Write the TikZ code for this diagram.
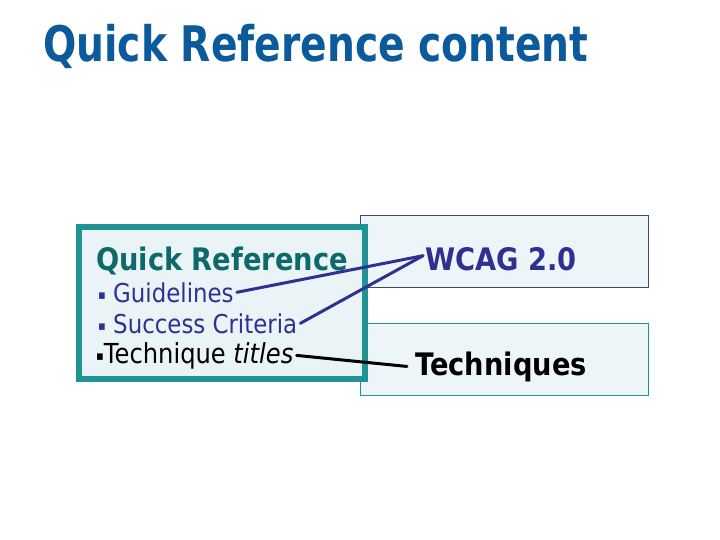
\documentclass[tikz,border=0pt]{standalone}
\usepackage{fontspec}
\setmainfont{DejaVu Sans}
\newfontfamily\slidefont[FakeStretch=0.88]{DejaVu Sans}
\newfontfamily\headfont[FakeStretch=0.8]{DejaVu Sans}
\usetikzlibrary{positioning}

\definecolor{headblue}{HTML}{0B5A9C}
\definecolor{qrteal}{HTML}{1E9494}
\definecolor{qrdark}{HTML}{0E6A6A}
\definecolor{qrfill}{HTML}{EAF3F6}
\definecolor{wcagink}{HTML}{2E3192}
\definecolor{wcagline}{HTML}{3B4868}
\definecolor{panelfill}{HTML}{EEF5F8}

\newcommand{\sqbullet}{\raisebox{3pt}{\fontsize{13}{13}\selectfont▪}}

\tikzset{
  txt/.style={anchor=base west, inner sep=0pt, font=\slidefont\fontsize{#1}{#1}\selectfont},
  boldtxt/.style={anchor=base west, inner sep=0pt, font=\slidefont\bfseries\fontsize{#1}{#1}\selectfont},
  panel/.style={draw=#1, fill=panelfill, line width=0.8pt, minimum width=288pt, minimum height=72pt},
  link/.style={draw=#1, line width=3pt, line cap=round},
}

\begin{document}
\begin{tikzpicture}[x=1pt,y=-1pt]
  \useasboundingbox[fill=white] (0,0) rectangle (720,540);
  % slide title
  \node[anchor=base west, inner sep=0pt, text=headblue,
        font=\headfont\bfseries\fontsize{49}{49}\selectfont] (head) at (43,62) {Quick Reference content};
  % target boxes
  \node[panel=wcagline] (wcagbox) at (504,251) {};
  \node[panel=qrteal] (techbox) at (504,359) {};
  % quick reference box
  \node[draw=qrteal, fill=qrfill, line width=6pt, minimum width=286pt, minimum height=152pt] (qrbox) at (222,303) {};
  \node[boldtxt=31, text=qrdark] (qr) at (96,270) {Quick Reference};
  \node[txt=26, text=wcagink] (guide) at (98,302) {\sqbullet\ Guidelines};
  \node[txt=26, text=wcagink] (crit) at (98,333) {\sqbullet\ Success Criteria};
  \node[txt=27.5, text=black] (ttl) at (96,363) {\sqbullet Technique \textit{titles}};
  % targets
  \node[boldtxt=31, text=wcagink] (wcag) at (425,270) {WCAG 2.0};
  \node[boldtxt=31, text=black] (tech) at (415,375) {Techniques};
  % connectors
  \draw[link=wcagink] ([xshift=3pt]guide.east) -- ([xshift=-2pt,yshift=3pt]wcag.west);
  \draw[link=wcagink] ([xshift=3pt]crit.east) -- ([xshift=-2pt,yshift=3pt]wcag.west);
  \draw[link=black] ([xshift=3pt]ttl.east) -- ([xshift=-8pt]tech.west);
\end{tikzpicture}
\end{document}
